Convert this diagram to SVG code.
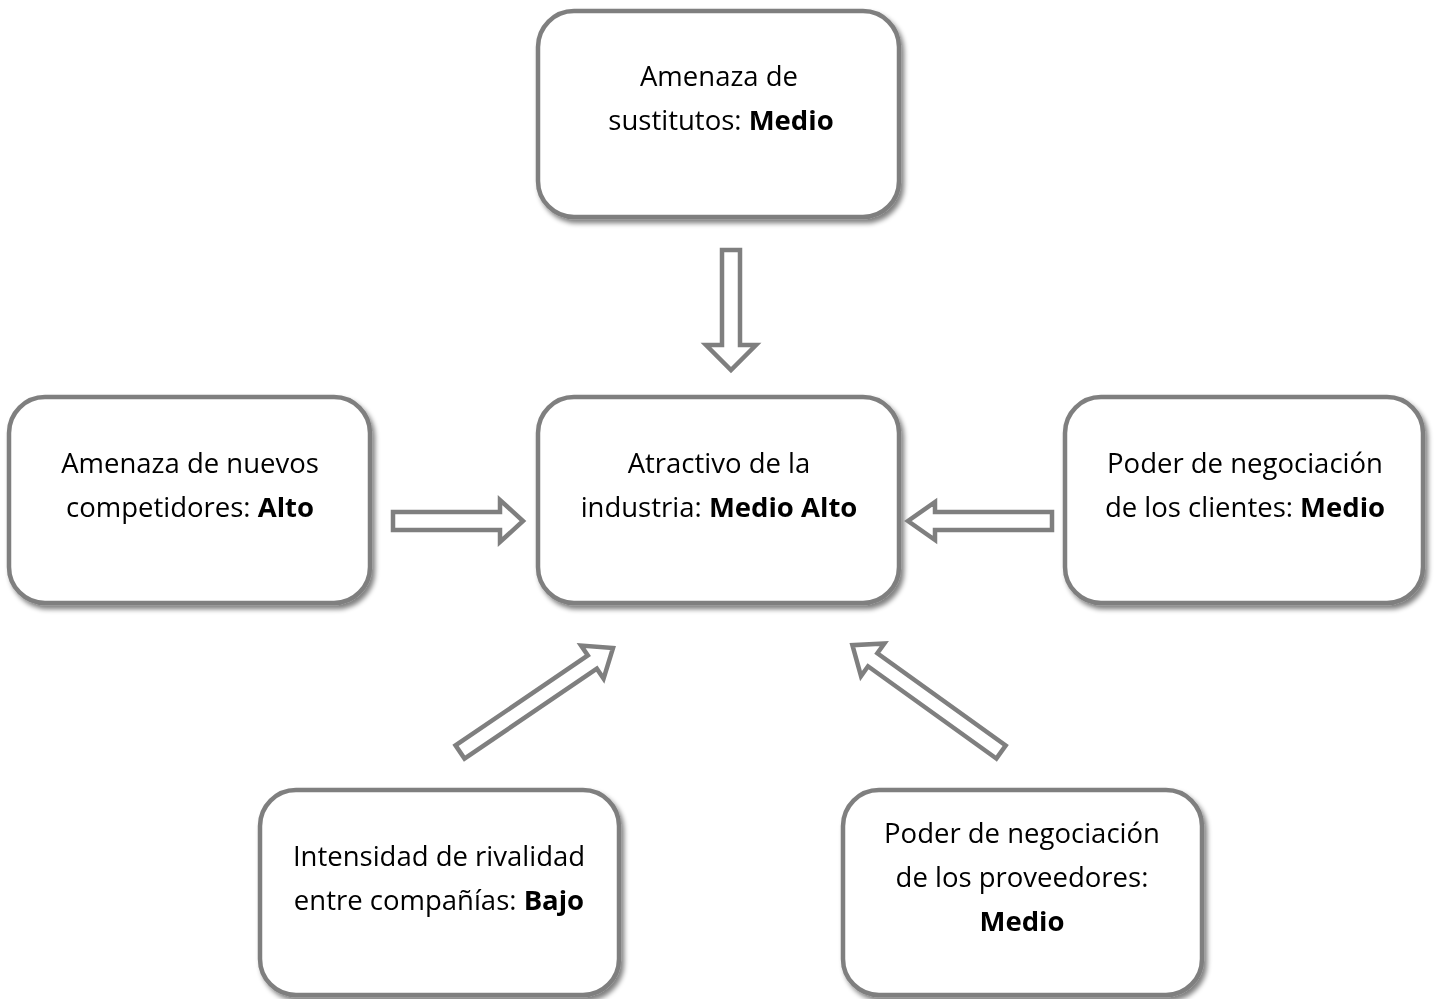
<svg xmlns="http://www.w3.org/2000/svg" width="1442" height="999" viewBox="0 0 1442 999">
<defs>
<filter id="sh" x="-10%" y="-10%" width="125%" height="125%">
<feGaussianBlur in="SourceAlpha" stdDeviation="2.5"/>
<feOffset dx="3" dy="4" result="b"/>
<feComponentTransfer><feFuncA type="linear" slope="0.5"/></feComponentTransfer>
<feMerge><feMergeNode/><feMergeNode in="SourceGraphic"/></feMerge>
</filter>
</defs>
<style>
.box{fill:#fff;stroke:#7f7f7f;stroke-width:4.5}
.t{font-family:"Open Sans","Liberation Sans",sans-serif;font-size:27.5px;fill:#000;text-anchor:middle}
.b{font-weight:bold}
.arr{fill:#fff;stroke:#7f7f7f;stroke-width:4.5;stroke-linejoin:miter}
</style>
<rect width="1442" height="999" fill="#fff"/>
<g id="n-sustitutos" filter="url(#sh)">
<rect class="box" x="538" y="11" width="361" height="206" rx="36"/>
<text class="t" x="719" y="86">Amenaza de</text>
<text class="t" x="721" y="130">sustitutos: <tspan class="b">Medio</tspan></text>
</g>
<g id="n-industria" filter="url(#sh)">
<rect class="box" x="538" y="397" width="361" height="206" rx="36"/>
<text class="t" x="719" y="473">Atractivo de la</text>
<text class="t" x="719" y="517">industria: <tspan class="b">Medio Alto</tspan></text>
</g>
<g id="n-nuevos" filter="url(#sh)">
<rect class="box" x="9" y="397" width="361" height="206" rx="36"/>
<text class="t" x="190" y="473">Amenaza de nuevos</text>
<text class="t" x="190" y="517">competidores: <tspan class="b">Alto</tspan></text>
</g>
<g id="n-clientes" filter="url(#sh)">
<rect class="box" x="1065" y="397" width="358" height="206" rx="36"/>
<text class="t" x="1245" y="473">Poder de negociación</text>
<text class="t" x="1245" y="517">de los clientes: <tspan class="b">Medio</tspan></text>
</g>
<g id="n-rivalidad" filter="url(#sh)">
<rect class="box" x="260" y="790" width="359" height="205" rx="36"/>
<text class="t" x="439" y="866">Intensidad de rivalidad</text>
<text class="t" x="439" y="910">entre compañías: <tspan class="b">Bajo</tspan></text>
</g>
<g id="n-proveedores" filter="url(#sh)">
<rect class="box" x="843" y="790" width="359" height="205" rx="36"/>
<text class="t" x="1022" y="843">Poder de negociación</text>
<text class="t" x="1022" y="887">de los proveedores:</text>
<text class="t b" x="1022" y="931">Medio</text>
</g>
<g id="connectors">
<polygon class="arr" transform="translate(731,250) rotate(90)" points="0,-9 95,-9 95,-25 120,0 95,25 95,9 0,9"/>
<polygon class="arr" transform="translate(393,521) rotate(0)" points="0,-9 107,-9 107,-21 130,0 107,21 107,9 0,9"/>
<polygon class="arr" transform="translate(1052,521) rotate(180)" points="0,-9 117,-9 117,-19 144,0 117,19 117,9 0,9"/>
<polygon class="arr" transform="translate(460,752) rotate(-34.2)" points="0,-8 160,-8 160,-20 185,0 160,20 160,8 0,8"/>
<polygon class="arr" transform="translate(1001,752) rotate(-144.3)" points="0,-8 158,-8 158,-20 183,0 158,20 158,8 0,8"/>
</g>
</svg>
